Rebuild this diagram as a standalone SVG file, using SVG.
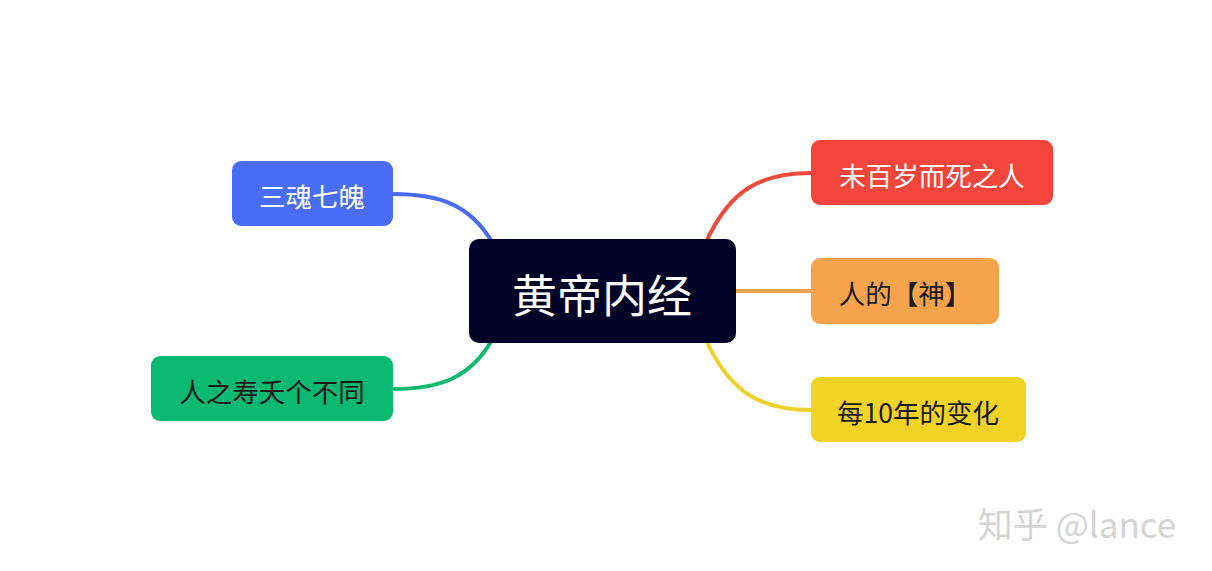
<svg xmlns="http://www.w3.org/2000/svg" width="1212" height="571" viewBox="0 0 1212 571">
<style>
text{font-family:"Noto Sans CJK SC","Noto Sans",sans-serif;text-anchor:middle;dominant-baseline:central}
.c{fill:none;stroke-width:4;stroke-linecap:round}
.t{font-size:26.5px}
</style>
<rect width="1212" height="571" fill="#fff"/>
<g id="connectors">
<path class="c" stroke="#ef4a3c" d="M706,242 C730,190 760,173 811,173"/>
<path class="c" stroke="#eda24c" d="M736,291 L811,291"/>
<path class="c" stroke="#ecd22a" d="M706,340 C730,392 760,410 811,410"/>
<path class="c" stroke="#4a6cf2" d="M492,242 C470,205 440,194 393,194"/>
<path class="c" stroke="#0dba72" d="M492,340 C470,378 440,389 393,389"/>
</g>
<g id="root"><rect x="469" y="239" width="267" height="104" rx="10" fill="#000225"/><text x="602" y="293" font-size="45" fill="#fff">黄帝内经</text></g>
<g id="n1"><rect x="811" y="140" width="242" height="65" rx="9" fill="#f4453c"/><text class="t" x="932" y="174" fill="#fff">未百岁而死之人</text></g>
<g id="n2"><rect x="811" y="258" width="188" height="66" rx="9" fill="#f6a34d"/><text class="t" x="905" y="292" fill="#1a1a1a">人的【神】</text></g>
<g id="n3"><rect x="811" y="377" width="215" height="65" rx="9" fill="#f0d324"/><text class="t" x="918" y="411" fill="#1a1a1a">每10年的变化</text></g>
<g id="n4"><rect x="232" y="161" width="161" height="65" rx="9" fill="#4a6cf7"/><text class="t" x="312" y="195" fill="#fff">三魂七魄</text></g>
<g id="n5"><rect x="151" y="356" width="242" height="65" rx="9" fill="#0ab971"/><text class="t" x="272" y="390" fill="#1a1a1a">人之寿夭个不同</text></g>
<text x="1077" y="522" font-size="35" fill="#d4d4d4">知乎 @lance</text>
</svg>
